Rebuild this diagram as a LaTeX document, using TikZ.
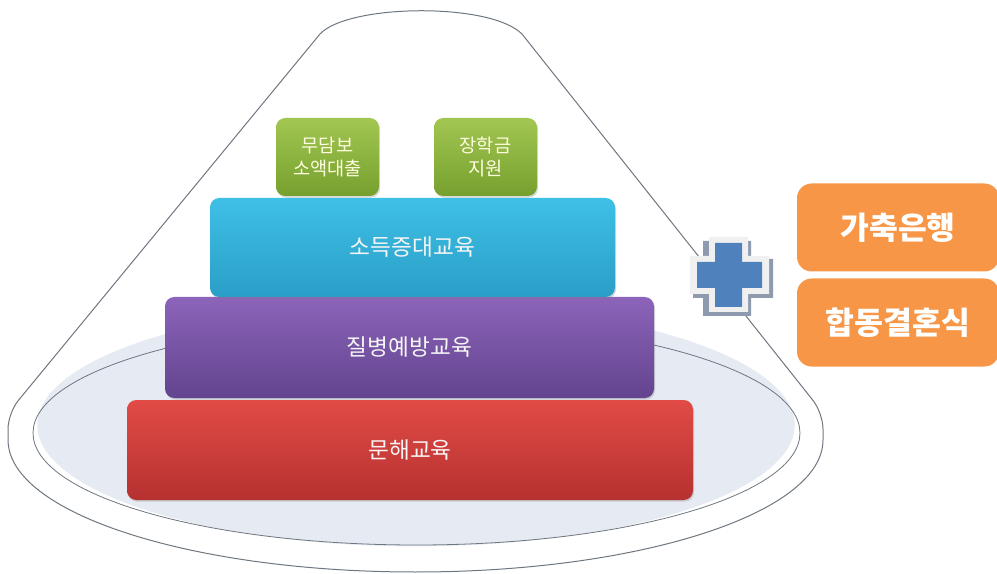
\documentclass[tikz,border=0pt]{standalone}
\usepackage{fontspec}
\newfontfamily\kr{Noto Sans CJK KR}
\usetikzlibrary{shadings,shadows}
\definecolor{outl}{HTML}{6E7780}
\definecolor{disc}{HTML}{E6EAF2}
\definecolor{redT}{HTML}{E24B46}
\definecolor{redB}{HTML}{B53130}
\definecolor{purT}{HTML}{8C64BA}
\definecolor{purB}{HTML}{63448E}
\definecolor{bluT}{HTML}{3EC0E6}
\definecolor{bluB}{HTML}{2A9EC6}
\definecolor{grnT}{HTML}{A2C652}
\definecolor{grnB}{HTML}{76A02E}
\definecolor{orng}{HTML}{F79646}
\definecolor{crossblue}{HTML}{4F81BD}
\definecolor{crossshadow}{HTML}{8E9BAE}
\tikzset{
  pbox/.style={rounded corners=7pt, inner sep=0pt, text=white!92!gray,
    font=\kr\fontsize{17}{20}\selectfont,
    drop shadow={opacity=0.3, shadow xshift=0.8pt, shadow yshift=-1.2pt}},
  gbox/.style={pbox, top color=grnT, bottom color=grnB, align=center,
    minimum width=77.25pt, minimum height=58.5pt,
    text=white!88!yellow, font=\kr\fontsize{14}{17.5}\selectfont},
  obox/.style={rounded corners=11pt, fill=orng, inner sep=0pt, text=white,
    font=\kr\bfseries\fontsize{23.5}{26}\selectfont,
    minimum width=151.5pt, minimum height=66pt}
}
\begin{document}
\begin{tikzpicture}[x=0.75pt,y=-0.75pt]
\useasboundingbox (0,0) rectangle (997,574);
% cone outline
\draw[draw=outl, line width=0.75pt, fill=white]
  (8,440) [rounded corners=12pt] -- (8,413) [sharp corners] -- (320,34)
  .. controls (348,4) and (490,2) .. (522,34)
  [rounded corners=12pt] -- (823,413) [sharp corners] -- (823,440)
  arc[start angle=0, end angle=-180, x radius=305.6pt, y radius=99pt];
% disc
\fill[disc] (416,425) ellipse[x radius=284pt, y radius=91pt];
\draw[draw=outl, line width=0.6pt] (416.5,433) ellipse[x radius=287.6pt, y radius=84pt];
% pyramid
\node[pbox, top color=redT, bottom color=redB, minimum width=424.5pt, minimum height=75pt]
  (red) at (410,450) {문해교육};
\node[pbox, top color=purT, bottom color=purB, minimum width=366.75pt, minimum height=75.75pt]
  (pur) at (409.5,347.5) {질병예방교육};
\node[pbox, top color=bluT, bottom color=bluB, minimum width=303.75pt, minimum height=74.25pt]
  (blu) at (412.5,247.5) {소득증대교육};
\node[gbox] (g1) at (327.5,157) {무담보\\소액대출};
\node[gbox] (g2) at (485.5,157) {장학금\\지원};
% plus sign
\fill[crossshadow]
  (703,241) -- (751,241) -- (751,259) -- (773,259) -- (773,298) -- (751,298) -- (751,316) -- (703,316)
  -- (703,298) -- (693,298) -- (693,259) -- (703,259) -- cycle;
\fill[gray!12]
  (709,237) -- (748,237) -- (748,256) -- (769,256) -- (769,294) -- (748,294) -- (748,312) -- (709,312)
  -- (709,294) -- (690,294) -- (690,256) -- (709,256) -- cycle;
\fill[crossblue]
  (715,243) -- (742,243) -- (742,262) -- (762,262) -- (762,288) -- (742,288) -- (742,307) -- (715,307)
  -- (715,288) -- (697,288) -- (697,262) -- (715,262) -- cycle;
% orange boxes
\node[obox] (o1) at (898,227.5) {가축은행};
\node[obox] (o2) at (898,322.5) {합동결혼식};
\end{tikzpicture}
\end{document}
